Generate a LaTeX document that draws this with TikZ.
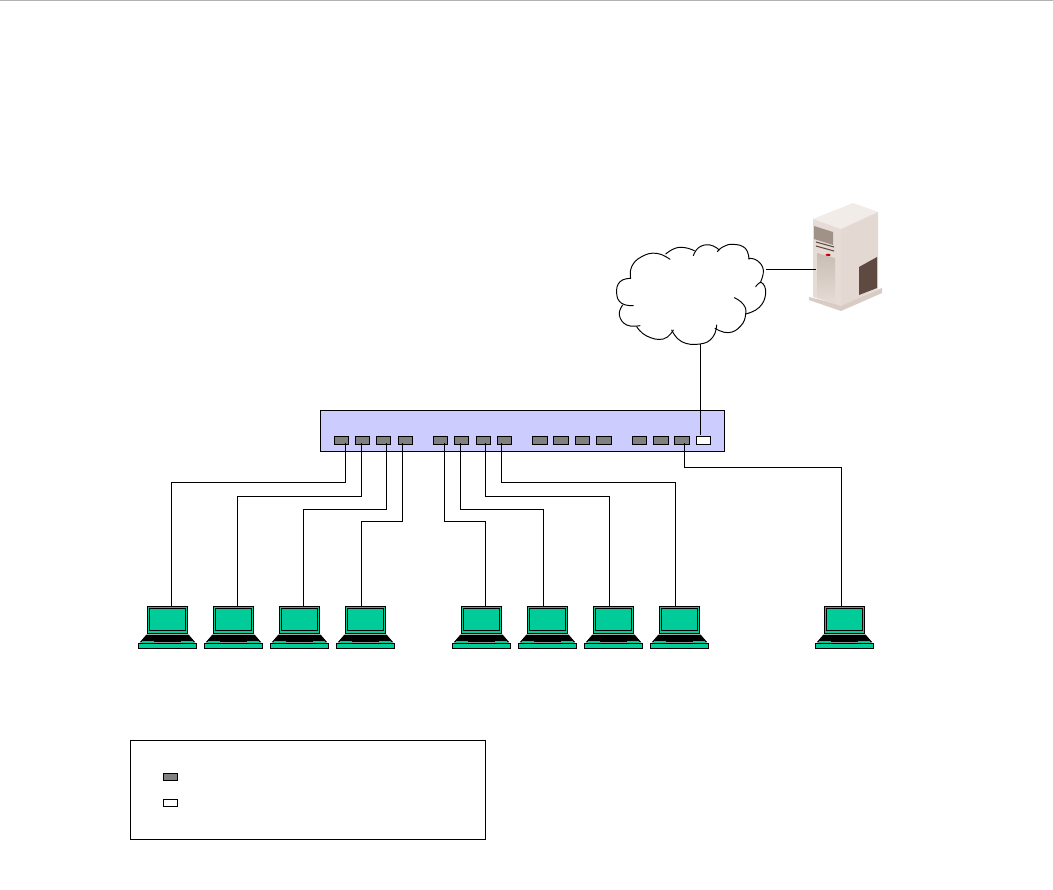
\documentclass[tikz,border=0pt]{standalone}
\usepackage{xcolor}
\usepackage{tikz}
\usetikzlibrary{calc}

\definecolor{lapgreen}{HTML}{00CC99}
\definecolor{swblue}{HTML}{CCCCFF}
\definecolor{portgrey}{HTML}{808080}
\definecolor{srvtop}{HTML}{F1ECE7}
\definecolor{srvfront}{HTML}{E6DCD5}
\definecolor{srvside}{HTML}{E3D9D2}
\definecolor{srvfoot}{HTML}{D8CCC4}
\definecolor{srvvent}{HTML}{5E4A40}
\definecolor{srvpane}{HTML}{A09286}
\definecolor{srvdoor}{HTML}{C8BDB3}

\tikzset{
    wire/.style={black, line width=0.55pt, line join=miter},
    portbox/.style={draw, line width=0.55pt, fill=portgrey, minimum width=0.29cm, minimum height=0.15cm, inner sep=0pt, outer sep=0pt},
    portfree/.style={portbox, fill=white},
    lapscreen/.style={draw, line width=0.55pt, fill=lapgreen, minimum width=0.81cm, minimum height=0.54cm, inner sep=0pt, outer sep=0pt},
    lapinner/.style={draw, line width=0.55pt, minimum width=0.72cm, minimum height=0.44cm, inner sep=0pt},
    lapbase/.style={draw, line width=0.55pt, fill=lapgreen, minimum width=1.16cm, minimum height=0.1cm, inner sep=0pt, outer sep=0pt},
}

\newcommand{\laptop}[2]{
    \node[lapscreen] (#1) at (#2,619.5) {};
    \node[lapinner] (#1in) at (#2,619) {};
    \filldraw[black] ([shift={(-21,2)}]#1.south) -- ([shift={(21,2)}]#1.south) -- ([shift={(27,9)}]#1.south) -- ([shift={(-27,9)}]#1.south) -- cycle;
    \fill[lapgreen] (#2-25.5,640.5) rectangle (#2-13.5,643);
    \fill[lapgreen] (#2+13.5,640.5) rectangle (#2+25.5,643);
    \node[lapbase] (#1base) at (#2,645.5) {};
}

\begin{document}
\begin{tikzpicture}[x=0.02cm, y=-0.02cm]

    \useasboundingbox (0,0) rectangle (1053,889);
    \fill[white] (0,0) rectangle (1053,889);
    \draw[black!30, line width=0.6pt] (0,0.5) -- (1053,0.5);

    % switch
    \node[draw, line width=0.55pt, fill=swblue, minimum width=8.09cm, minimum height=0.82cm, inner sep=0pt, outer sep=0pt] (switch) at (522.3,430.5) {};
    \foreach \i/\x in {1/341.5, 2/362.5, 3/383.5, 4/405.5, 5/440.5, 6/461.5, 7/483.5, 8/504.5, 9/540, 10/561, 11/582.5, 12/604, 13/639.5, 14/661, 15/682, 16/703.5} {
        \node[portbox] (p\i) at (\x,440.5) {};
    }
    \node[portfree] (p16) at (703.5,440.5) {};

    % laptops
    \foreach \i/\x in {1/167.5, 2/233.5, 3/299.5, 4/365.5, 5/481.5, 6/547.5, 7/613.5, 8/679.5, 9/844.5} {
        \laptop{lap\i}{\x}
    }

    % wires, port / shift at port / level / laptop / shift at laptop
    \foreach \p/\a/\lvl/\l/\b in {1/3.5/482/1/4, 2/-1.5/496/2/4, 3/2.5/509/3/3.5, 4/-3.5/521/4/-4.5, 5/3.5/521/5/3.5, 6/-1.5/509/6/-4.5, 7/1.5/496/7/-4.5, 8/-3.5/482/8/-4.5, 15/2/467/9/-3.5} {
        \coordinate (s) at ([shift={(\a,-1.5)}]p\p.south);
        \coordinate (e) at ([shift={(\b,0)}]lap\l.north);
        \draw[wire] (s) -- (s |- 0,\lvl) -| (e);
    }

    % cloud
    \begin{scope}[shift={(600,190)}, x=0.00667cm, y=-0.00667cm, black, line width=0.55pt, line cap=round]
        \draw plot[smooth, tension=0.8] coordinates {(215,420) (245,455) (300,462) (338,442) (350,405)};
        \draw plot[smooth, tension=0.8] coordinates {(345,415) (385,428) (422,408) (437,372) (430,343) (403,323)};
        \draw plot[smooth, tension=0.8] coordinates {(437,372) (478,352) (497,310) (485,278) (467,290)};
        \draw plot[smooth, tension=0.8] coordinates {(482,275) (490,240) (472,212) (447,205)};
        \draw plot[smooth, tension=0.8] coordinates {(447,208) (436,175) (400,163) (370,170) (352,185)};
        \draw plot[smooth, tension=0.8] coordinates {(358,180) (330,165) (297,172) (280,197)};
        \draw plot[smooth, tension=0.8] coordinates {(283,182) (255,173) (225,175) (197,192)};
        \draw plot[smooth, tension=0.8] coordinates {(210,208) (170,190) (125,200) (95,230) (92,265)};
        \draw plot[smooth, tension=0.8] coordinates {(92,265) (60,275) (50,310) (65,340) (100,347)};
        \draw plot[smooth, tension=0.8] coordinates {(68,345) (58,375) (80,405) (120,407)};
        \draw plot[smooth, tension=0.8] coordinates {(110,410) (140,438) (190,447) (220,420)};
    \end{scope}
    \coordinate (cloudb) at (700,344);
    \coordinate (cloude) at (766,269);

    % server
    \fill[srvfoot] (809,297) -- (841,305) -- (882,288) -- (882,293) -- (841,311) -- (809,300) -- cycle;
    \fill[srvtop] (813,219) -- (853,203) -- (878,212) -- (841,229) -- cycle;
    \fill[srvfront] (813,219) -- (841,229) -- (841,306) -- (813,297) -- cycle;
    \fill[srvside] (841,229) -- (878,212) -- (878,289) -- (841,306) -- cycle;
    \fill[srvvent] (859,267) -- (877,257) -- (877,288) -- (859,295) -- cycle;
    \fill[srvpane] (814,226) -- (833,232) -- (833,245) -- (814,239) -- cycle;
    \draw[srvvent, line width=0.6pt] (816,242) -- (834,247) (816,246) -- (834,251);
    \fill[red!75!black] (828,255) ellipse (2.5 and 1.3);
    \shade[top color=srvdoor, bottom color=srvfront] (817,253) -- (835,258) -- (835,303) -- (817,297) -- cycle;

    \coordinate (server) at (816,269);

    \draw[wire] (cloude) -- (server);
    \coordinate (t) at ([shift={(-3.5,-2)}]p16.north);
    \draw[wire] (t) -- (t |- cloudb);

    % legend
    \node[draw, line width=0.55pt, minimum width=7.11cm, minimum height=1.98cm, inner sep=0pt] (legend) at (307.8,790) {};
    \node[portbox] (legused) at (170.5,777) {};
    \node[portfree] (legfree) at (170.5,803) {};

\end{tikzpicture}
\end{document}
